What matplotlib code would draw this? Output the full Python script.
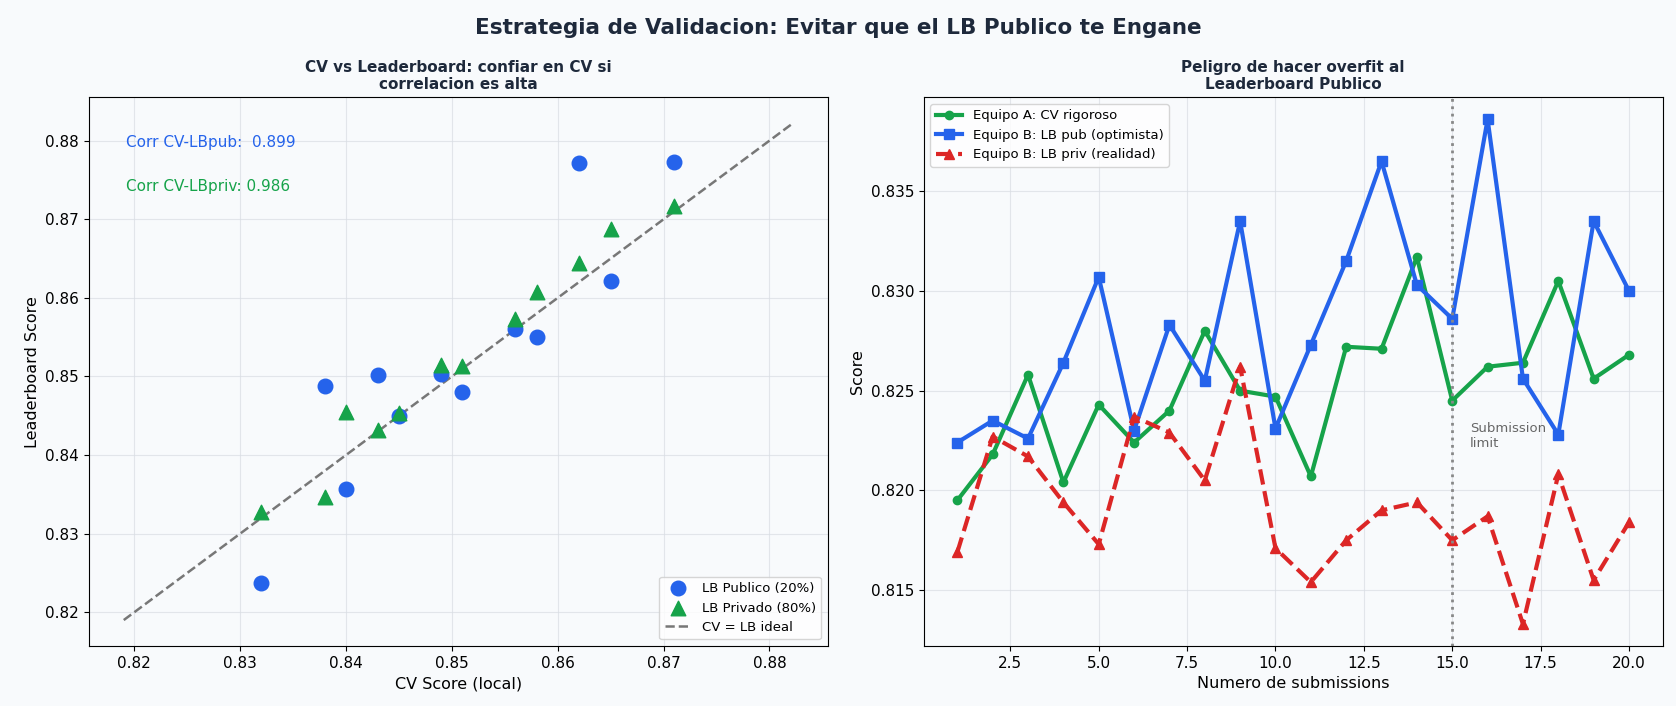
import matplotlib
matplotlib.use("Agg")
import matplotlib.pyplot as plt
import numpy as np

cv = [0.832,0.838,0.840,0.843,0.845,0.849,0.851,0.856,0.858,0.862,0.865,0.871]
lb_pub = [0.8237,0.8488,0.8357,0.8502,0.8450,0.8503,0.8480,0.8560,0.8550,0.8772,0.8621,0.8773]
lb_priv = [0.8328,0.8346,0.8455,0.8432,0.8453,0.8515,0.8513,0.8573,0.8607,0.8644,0.8687,0.8717]
ideal = [0.819, 0.8822]

subs = list(range(1, 21))
team_a = [0.8195,0.8218,0.8258,0.8204,0.8243,0.8224,0.8240,0.8280,0.8250,0.8247,0.8207,0.8272,0.8271,0.8317,0.8245,0.8262,0.8264,0.8305,0.8256,0.8268]
team_b_pub = [0.8224,0.8235,0.8226,0.8264,0.8307,0.8230,0.8283,0.8255,0.8335,0.8231,0.8273,0.8315,0.8365,0.8303,0.8286,0.8386,0.8256,0.8228,0.8335,0.8300]
team_b_priv = [0.8169,0.8227,0.8217,0.8194,0.8173,0.8237,0.8229,0.8205,0.8262,0.8171,0.8154,0.8175,0.8190,0.8194,0.8175,0.8187,0.8133,0.8208,0.8155,0.8184]

BG = "#f8fafc"
BLUE = "#2563eb"; GREEN = "#16a34a"; RED = "#dc2626"; DARK = "#1e293b"

fig, (ax1, ax2) = plt.subplots(1, 2, figsize=(16.76, 7.06), dpi=100)
fig.patch.set_facecolor(BG)
for ax in (ax1, ax2):
    ax.set_facecolor(BG)
    ax.grid(True, color="#d9dde3", alpha=0.7, linewidth=0.8)
    ax.tick_params(labelsize=11)

ax1.scatter(cv, lb_pub, s=110, color=BLUE, marker="o", label="LB Publico (20%)", zorder=3)
ax1.scatter(cv, lb_priv, s=110, color=GREEN, marker="^", label="LB Privado (80%)", zorder=3)
ax1.plot(ideal, ideal, "--", color="#777777", linewidth=1.8, label="CV = LB ideal")
ax1.set_xlim(0.8157, 0.8855)
ax1.set_ylim(0.8157, 0.8855)
c_pub = np.corrcoef(cv, lb_pub)[0, 1]
c_priv = np.corrcoef(cv, lb_priv)[0, 1]
ax1.text(0.05, 0.91, "Corr CV-LBpub:  0.899", transform=ax1.transAxes, color=BLUE, fontsize=11)
ax1.text(0.05, 0.83, "Corr CV-LBpriv: 0.986", transform=ax1.transAxes, color=GREEN, fontsize=11)
ax1.set_xlabel("CV Score (local)", fontsize=11.5)
ax1.set_ylabel("Leaderboard Score", fontsize=11.5)
ax1.set_title("CV vs Leaderboard: confiar en CV si\ncorrelacion es alta", fontsize=11, fontweight="bold", color=DARK)
ax1.legend(loc="lower right", fontsize=9.5)

ax2.plot(subs, team_a, "-o", color=GREEN, linewidth=3, markersize=6, label="Equipo A: CV rigoroso")
ax2.plot(subs, team_b_pub, "-s", color=BLUE, linewidth=3, markersize=7, label="Equipo B: LB pub (optimista)")
ax2.plot(subs, team_b_priv, "--^", color=RED, linewidth=3, markersize=7, label="Equipo B: LB priv (realidad)")
ax2.axvline(15, color="#888888", linestyle=":", linewidth=2)
ax2.text(15.5, 0.8222, "Submission\nlimit", color="#666666", fontsize=9.5)
ax2.set_xlim(0.05, 20.95)
ax2.set_ylim(0.8122, 0.8397)
ax2.set_xticks([2.5,5,7.5,10,12.5,15,17.5,20])
ax2.set_xlabel("Numero de submissions", fontsize=11.5)
ax2.set_ylabel("Score", fontsize=11.5)
ax2.set_title("Peligro de hacer overfit al\nLeaderboard Publico", fontsize=11, fontweight="bold", color=DARK)
ax2.legend(loc="upper left", fontsize=9.5)

fig.suptitle("Estrategia de Validacion: Evitar que el LB Publico te Engane", fontsize=15.5, fontweight="bold", color=DARK, y=0.975)
fig.subplots_adjust(left=0.053, right=0.992, top=0.862, bottom=0.085, wspace=0.13)
fig.savefig("out.png", facecolor=BG)
